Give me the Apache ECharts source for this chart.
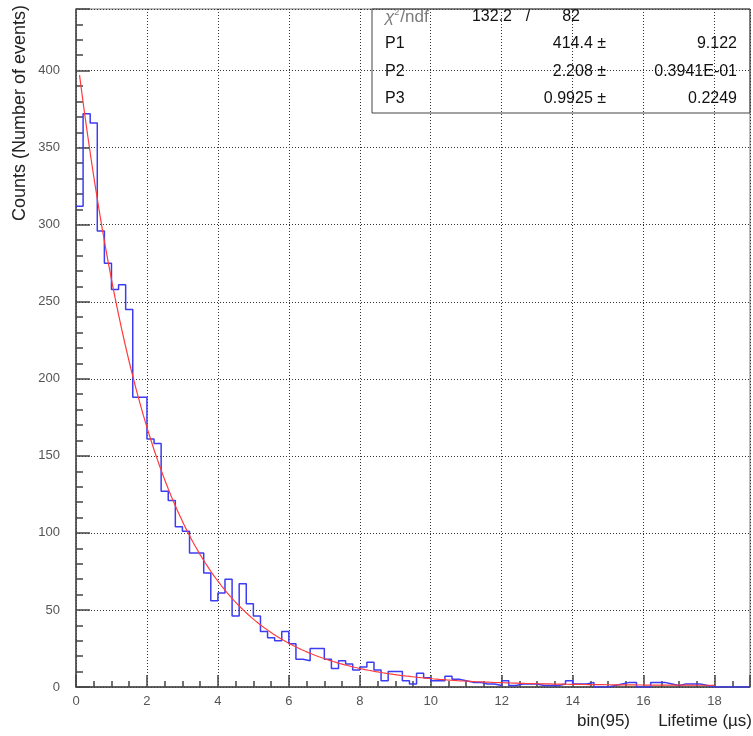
<!DOCTYPE html>
<html>
<head>
<meta charset="utf-8">
<script src="https://cdn.jsdelivr.net/npm/echarts@6/dist/echarts.min.js"></script>
<style>
  html, body { margin: 0; padding: 0; background: #fff; }
  #chart { width: 753px; height: 736px; }
</style>
</head>
<body>
<div id="chart"></div>
<script>
// Muon lifetime histogram: 95 bins over 0-19 µs
const binCount = 95;
const xMin = 0;
const xMax = 19;
const counts = [
  312, 372, 366, 296, 275, 258, 261, 245, 188, 188,
  161, 158, 127, 121, 104, 101, 87, 87, 74, 56,
  61, 70, 46, 67, 54, 46, 36, 32, 30, 36,
  28, 18, 17, 25, 25, 18, 12, 17, 15, 11,
  13, 16, 11, 4, 10, 10, 4, 2, 9, 6,
  4, 4, 7, 5, 4, 3, 3, 2, 2, 1,
  4, 1, 2, 2, 2, 1, 1, 1, 2, 4,
  2, 2, 3, 0, 0, 1, 2, 3, 3, 0,
  0, 3, 3, 2, 1, 2, 2, 2, 1, 0,
  0, 0, 0, 0, 0
];

// Exponential fit results: P1 * exp(-t / P2) + P3
const fitNames = ['P1', 'P2', 'P3'];
const fitValues = [414.4, 2.208, 0.9925];
const fitErrors = ['9.122', '0.3941E-01', '0.2249'];
const fitValueText = ['414.4', '2.208', '0.9925'];
const chi2Text = '132.2';
const ndfText = '82';
const fitRange = [0.1, 18.0];

const xTicks = [0, 2, 4, 6, 8, 10, 12, 14, 16, 18];
const yTicks = [0, 50, 100, 150, 200, 250, 300, 350, 400];

const binWidth = (xMax - xMin) / binCount;

// step outline: one point per bin left edge, plus the closing right edge
const histData = counts.map((c, i) => [xMin + i * binWidth, c]);
histData.push([xMax, counts[counts.length - 1]]);

// fitted curve evaluated from the quoted parameters
const fitData = [];
for (let t = fitRange[0]; t <= fitRange[1] + 1e-9; t += 0.05) {
  fitData.push([t, fitValues[0] * Math.exp(-t / fitValues[1]) + fitValues[2]]);
}

const FONT = 'Liberation Sans, Arial, sans-serif';

const chart = echarts.init(document.getElementById('chart'), null, { renderer: 'canvas' });

const boxLeft = 372, boxTop = 9, boxRight = 750, boxBottom = 113;
const rowY = [17, 44, 72, 99];

const boxTexts = [
  { x: 512, y: rowY[0], text: chi2Text, align: 'right', color: '#111' },
  { x: 528, y: rowY[0], text: '/', align: 'center', color: '#111' },
  { x: 580, y: rowY[0], text: ndfText, align: 'right', color: '#111' }
];
fitNames.forEach((n, i) => {
  boxTexts.push({ x: 385, y: rowY[i + 1], text: n, align: 'left', color: '#111' });
  boxTexts.push({ x: 606, y: rowY[i + 1], text: fitValueText[i] + ' ±', align: 'right', color: '#111' });
  boxTexts.push({ x: 737, y: rowY[i + 1], text: fitErrors[i], align: 'right', color: '#111' });
});

const option = {
  backgroundColor: '#fff',
  animation: false,
  grid: {
    left: 76, top: 9, right: 3, bottom: 49,
    show: true, borderColor: '#777', borderWidth: 1, backgroundColor: 'transparent'
  },
  xAxis: {
    type: 'value', min: xMin, max: xMax, interval: 2,
    axisLine: { show: true, onZero: false, lineStyle: { color: '#444', width: 1.5 } },
    axisTick: { show: true, inside: true, length: 12, lineStyle: { color: '#444', width: 1.5 } },
    minorTick: { show: true, splitNumber: 4, length: 6, lineStyle: { color: '#444', width: 1.5 } },
    splitLine: { show: true, lineStyle: { color: '#333', width: 1, type: [1, 2] } },
    axisLabel: {
      color: '#555', fontFamily: FONT, fontSize: 13, margin: 8,
      showMaxLabel: false,
      formatter: v => (xTicks.indexOf(v) >= 0 ? String(v) : '')
    }
  },
  yAxis: {
    type: 'value', min: 0, max: 440, interval: 50,
    axisLine: { show: true, onZero: false, lineStyle: { color: '#444', width: 1.5 } },
    axisTick: { show: true, inside: true, length: 14, lineStyle: { color: '#444', width: 1.5 } },
    minorTick: { show: true, splitNumber: 5, length: 7, lineStyle: { color: '#444', width: 1.5 } },
    splitLine: { show: true, lineStyle: { color: '#333', width: 1, type: [1, 2] } },
    axisLabel: {
      color: '#555', fontFamily: FONT, fontSize: 13, margin: 16,
      showMaxLabel: false,
      formatter: v => (yTicks.indexOf(v) >= 0 ? String(v) : '')
    }
  },
  series: [
    {
      name: 'fit', type: 'line', data: fitData, showSymbol: false, smooth: false,
      lineStyle: { color: '#ff3b3b', width: 1.2 }, z: 3
    },
    {
      name: 'counts', type: 'line', data: histData, step: 'end', showSymbol: false,
      lineStyle: { color: '#3c3cf2', width: 1.5 }, z: 2
    }
  ],
  graphic: [
    {
      type: 'rect', z: 10,
      shape: { x: boxLeft, y: boxTop, width: boxRight - boxLeft, height: boxBottom - boxTop },
      style: { fill: 'transparent', stroke: '#444', lineWidth: 1 }
    },
    {
      type: 'text', z: 11, x: 385, y: rowY[0],
      style: {
        text: '{g|χ}{s|2}{c|/ndf}', textVerticalAlign: 'middle',
        rich: {
          g: { fill: '#7a7a7a', font: 'italic 17px ' + FONT },
          c: { fill: '#7a7a7a', font: '17px ' + FONT },
          s: { fill: '#7a7a7a', font: '9px ' + FONT, verticalAlign: 'top', padding: [0, 1, 8, 0] }
        }
      }
    },
    ...boxTexts.map(t => ({
      type: 'text', z: 11, x: t.x, y: t.y,
      style: {
        text: t.text, fill: t.color, font: '16px ' + FONT,
        textAlign: t.align, textVerticalAlign: 'middle'
      }
    })),
    {
      type: 'text', z: 11, x: 20, y: 5, rotation: Math.PI / 2,
      style: {
        text: 'Counts (Number of events)', fill: '#222', font: '18px ' + FONT,
        textAlign: 'right', textVerticalAlign: 'middle'
      }
    },
    {
      type: 'text', z: 11, x: 630, y: 721,
      style: {
        text: 'bin(95)', fill: '#222', font: '17px ' + FONT,
        textAlign: 'right', textVerticalAlign: 'middle'
      }
    },
    {
      type: 'text', z: 11, x: 752, y: 721,
      style: {
        text: 'Lifetime (µs)', fill: '#222', font: '17px ' + FONT,
        textAlign: 'right', textVerticalAlign: 'middle'
      }
    }
  ]
};

chart.setOption(option);
</script>
</body>
</html>
